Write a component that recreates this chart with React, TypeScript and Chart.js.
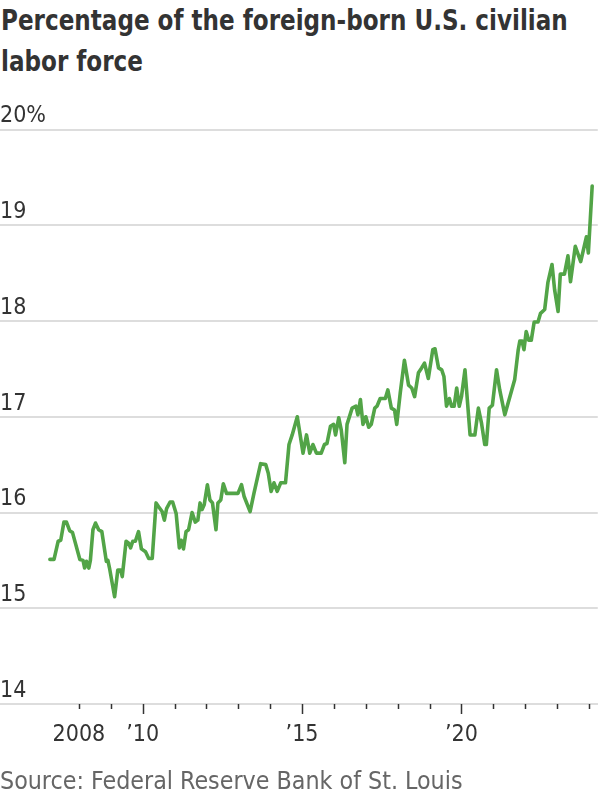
import React, { useEffect, useRef } from "react";
import { Chart, registerables } from "chart.js";

Chart.register(...registerables);

const TITLE_LINES = ["Percentage of the foreign-born U.S. civilian", "labor force"];
const SOURCE = "Source: Federal Reserve Bank of St. Louis";

// decimal-year positions of the traced vertices
const dates = [
  2007.09, 2007.22, 2007.35, 2007.43, 2007.53, 2007.61, 2007.71, 2007.8, 2008.03, 2008.13,
  2008.18, 2008.24, 2008.31, 2008.36, 2008.44, 2008.52, 2008.62, 2008.72, 2008.86, 2008.91,
  2008.96, 2009.12, 2009.22, 2009.31, 2009.36, 2009.48, 2009.56, 2009.62, 2009.69, 2009.77,
  2009.87, 2009.96, 2010.09, 2010.19, 2010.3, 2010.42, 2010.5, 2010.61, 2010.68, 2010.75,
  2010.86, 2010.94, 2011.05, 2011.15, 2011.21, 2011.28, 2011.36, 2011.44, 2011.55, 2011.65,
  2011.73, 2011.8, 2011.86, 2011.93, 2012.03, 2012.11, 2012.19, 2012.3, 2012.36, 2012.45,
  2012.53, 2012.63, 2012.99, 2013.1, 2013.18, 2013.37, 2013.49, 2013.7, 2013.86, 2013.94,
  2014.03, 2014.12, 2014.22, 2014.33, 2014.48, 2014.59, 2014.69, 2014.85, 2015.03, 2015.14,
  2015.24, 2015.34, 2015.45, 2015.6, 2015.7, 2015.78, 2015.89, 2015.99, 2016.05, 2016.15,
  2016.23, 2016.34, 2016.41, 2016.57, 2016.69, 2016.75, 2016.83, 2016.91, 2017.0, 2017.09,
  2017.17, 2017.28, 2017.35, 2017.45, 2017.61, 2017.69, 2017.8, 2017.9, 2017.97, 2018.08,
  2018.21, 2018.34, 2018.44, 2018.53, 2018.65, 2018.75, 2018.84, 2018.96, 2019.1, 2019.17,
  2019.28, 2019.38, 2019.45, 2019.53, 2019.62, 2019.69, 2019.77, 2019.85, 2019.93, 2020.0,
  2020.11, 2020.27, 2020.42, 2020.53, 2020.63, 2020.73, 2020.78, 2020.87, 2020.97, 2021.1,
  2021.2, 2021.36, 2021.67, 2021.78, 2021.83, 2021.9, 2021.96, 2022.03, 2022.11, 2022.19,
  2022.28, 2022.4, 2022.48, 2022.61, 2022.71, 2022.84, 2022.92, 2023.03, 2023.1, 2023.23,
  2023.34, 2023.42, 2023.57, 2023.74, 2023.92, 2023.98, 2024.1,
];

// percent of the civilian labor force that is foreign-born
const values = [
  15.51, 15.51, 15.7, 15.71, 15.9, 15.9, 15.81, 15.79, 15.51, 15.5,
  15.42, 15.49, 15.42, 15.5, 15.82, 15.89, 15.82, 15.8, 15.49, 15.5,
  15.42, 15.12, 15.4, 15.4, 15.33, 15.7, 15.68, 15.63, 15.7, 15.7,
  15.8, 15.62, 15.59, 15.52, 15.52, 16.1, 16.06, 16.01, 15.92, 16.04,
  16.11, 16.11, 15.99, 15.63, 15.71, 15.62, 15.8, 15.82, 16.0, 15.9,
  15.92, 16.1, 16.03, 16.08, 16.29, 16.13, 16.1, 15.82, 16.1, 16.13,
  16.3, 16.2, 16.2, 16.29, 16.17, 16.01, 16.2, 16.51, 16.5, 16.41,
  16.22, 16.31, 16.22, 16.31, 16.31, 16.71, 16.81, 17.0, 16.62, 16.81,
  16.62, 16.71, 16.62, 16.62, 16.71, 16.72, 16.9, 16.92, 16.81, 16.99,
  16.86, 16.52, 16.92, 17.09, 17.11, 17.02, 17.18, 16.92, 17.0, 16.89,
  16.92, 17.09, 17.11, 17.19, 17.19, 17.28, 17.09, 17.07, 16.92, 17.25,
  17.59, 17.33, 17.3, 17.21, 17.46, 17.51, 17.56, 17.4, 17.7, 17.71,
  17.51, 17.49, 17.42, 17.11, 17.19, 17.11, 17.11, 17.3, 17.11, 17.21,
  17.49, 16.81, 16.81, 17.09, 16.93, 16.71, 16.71, 17.09, 17.12, 17.49,
  17.28, 17.02, 17.39, 17.7, 17.79, 17.79, 17.7, 17.89, 17.8, 17.8,
  17.99, 17.99, 18.08, 18.12, 18.4, 18.59, 18.33, 18.1, 18.49, 18.49,
  18.68, 18.41, 18.78, 18.62, 18.88, 18.71, 19.41,
];

const xTickYears = [2008, 2009, 2010, 2011, 2012, 2013, 2014, 2015, 2016, 2017, 2018, 2019, 2020, 2021, 2022, 2023, 2024];
const xMajorLabels: Record<number, string> = { 2008: "2008", 2010: "\u201910", 2015: "\u201915", 2020: "\u201920" };
const yTicks = [14, 15, 16, 17, 18, 19, 20];

const FONT = "'DejaVu Sans Condensed', 'DejaVu Sans', sans-serif";

export default function App() {
  const ref = useRef<HTMLCanvasElement | null>(null);

  useEffect(() => {
    if (!ref.current) return;
    const tickPlugin = {
      id: "xTickMarks",
      afterDraw(chart: any) {
        const xs = chart.scales.x;
        const ctx = chart.ctx;
        const bottom = chart.chartArea.bottom;
        ctx.save();
        ctx.strokeStyle = "#333";
        ctx.lineWidth = 1.5;
        xTickYears.forEach((yr) => {
          const px = Math.round(xs.getPixelForValue(yr)) + 0.5;
          const len = xMajorLabels[yr] && yr !== 2008 ? 10 : 5;
          ctx.beginPath();
          ctx.moveTo(px, bottom);
          ctx.lineTo(px, bottom + len);
          ctx.stroke();
        });
        ctx.restore();
      },
    };

    const chart = new Chart(ref.current, {
      type: "line",
      data: {
        datasets: [
          {
            data: dates.map((d, i) => ({ x: d, y: values[i] })),
            borderColor: "#52a447",
            borderWidth: 3.6,
            pointRadius: 0,
            tension: 0,
            borderJoinStyle: "round",
            borderCapStyle: "round",
          },
        ],
      },
      options: {
        responsive: false,
        animation: false,
        devicePixelRatio: 1,
        layout: { padding: { top: 129.5, bottom: 40, left: 0, right: 0 } },
        plugins: { legend: { display: false }, tooltip: { enabled: false }, title: { display: false } },
        scales: {
          x: {
            type: "linear",
            min: 2005.525,
            max: 2024.275,
            afterBuildTicks: (s: any) => {
              s.ticks = xTickYears.map((v) => ({ value: v }));
            },
            afterFit: (s: any) => {
              s.height = 56;
            },
            grid: { display: false, drawTicks: true, tickLength: 6 },
            border: { display: true, color: "#dddddd", width: 2 },
            ticks: {
              autoSkip: false,
              maxRotation: 0,
              padding: 11,
              color: "#333",
              font: { family: FONT, size: 23 },
              callback: (v: any) => xMajorLabels[v as number] ?? "",
            },
          },
          y: {
            type: "linear",
            min: 14,
            max: 20,
            afterBuildTicks: (s: any) => {
              s.ticks = yTicks.map((v) => ({ value: v }));
            },
            afterFit: (s: any) => {
              s.width = 0;
            },
            grid: { color: "#dddddd", lineWidth: 2, drawTicks: false },
            border: { display: false },
            ticks: {
              mirror: true,
              padding: 0,
              labelOffset: -13,
              color: "#333",
              font: { family: FONT, size: 23 },
              callback: (v: any) => (v === 20 ? "20%" : String(v)),
            },
          },
        },
      },
      plugins: [tickPlugin],
    } as any);
    return () => chart.destroy();
  }, []);

  const lineStyle: React.CSSProperties = {
    whiteSpace: "nowrap",
    transform: "scaleX(0.885)",
    transformOrigin: "left center",
  };

  return (
    <div style={{ position: "absolute", left: 0, top: 0, width: 600, height: 800, background: "#fff" }}>
      <div
        style={{
          position: "absolute",
          left: 1,
          top: 0,
          width: 680,
          fontFamily: FONT,
          fontWeight: "bold",
          fontSize: 29,
          lineHeight: "41px",
          color: "#333",
        }}
      >
        {TITLE_LINES.map((t) => (
          <div key={t} style={lineStyle}>
            {t}
          </div>
        ))}
      </div>
      <canvas ref={ref} width={600} height={800} style={{ position: "absolute", left: 0, top: 0 }} />
      <div
        style={{
          position: "absolute",
          left: 0,
          top: 766,
          whiteSpace: "nowrap",
          fontFamily: FONT,
          fontSize: 25,
          lineHeight: "30px",
          color: "#666",
          transform: "scaleX(0.99)",
          transformOrigin: "left center",
        }}
      >
        {SOURCE}
      </div>
    </div>
  );
}
